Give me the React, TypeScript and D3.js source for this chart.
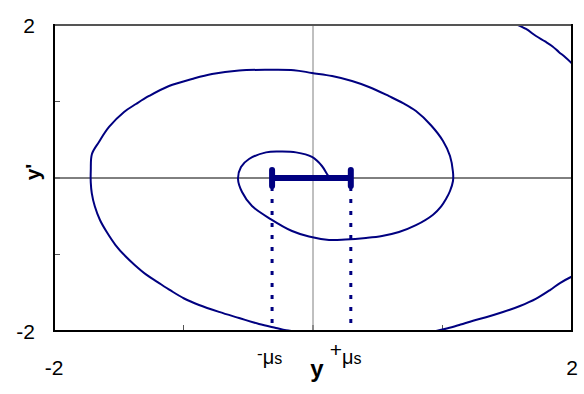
import React from 'react';
import * as d3 from 'd3';

// phase plane trajectory: [y, y']
const topRightArc: [number, number][] = [
  [1.568, 2.01], [1.645, 1.948], [1.722, 1.856], [1.792, 1.785], [1.85, 1.72],
  [1.9, 1.645], [1.946, 1.582], [2.01, 1.48],
];

const bottomRightArc: [number, number][] = [
  [2.01, -1.28], [1.992, -1.294], [1.907, -1.373], [1.83, -1.465], [1.72, -1.58],
  [1.598, -1.673], [1.467, -1.752], [1.336, -1.82], [1.236, -1.865], [1.14, -1.915],
  [1.04, -1.965], [0.95, -2.0], [0.86, -2.02],
];

const outerLoop: [number, number][] = [
  [-0.108, -2.01], [-0.208, -1.99], [-0.286, -1.96], [-0.417, -1.908], [-0.571, -1.83],
  [-0.726, -1.75], [-0.88, -1.66], [-0.995, -1.575], [-1.1, -1.47], [-1.2, -1.36],
  [-1.29, -1.26], [-1.375, -1.14], [-1.45, -1.02], [-1.525, -0.876], [-1.595, -0.7],
  [-1.645, -0.549], [-1.685, -0.37], [-1.708, -0.2], [-1.716, -0.06], [-1.716, 0.1],
  [-1.707, 0.314], [-1.653, 0.471], [-1.575, 0.667], [-1.459, 0.863], [-1.367, 0.967],
  [-1.266, 1.072], [-1.112, 1.203], [-0.934, 1.294], [-0.78, 1.359], [-0.571, 1.405],
  [-0.35, 1.415], [-0.147, 1.41], [-0.008, 1.373], [0.147, 1.333], [0.301, 1.268],
  [0.432, 1.19], [0.587, 1.07], [0.695, 0.98], [0.795, 0.876], [0.911, 0.69],
  [1.004, 0.484], [1.058, 0.288], [1.081, 0.078], [1.081, -0.039], [1.058, -0.17],
  [1.027, -0.275], [0.99, -0.37], [0.927, -0.48], [0.795, -0.617], [0.664, -0.706],
  [0.533, -0.758], [0.409, -0.784], [0.25, -0.805], [0.124, -0.81], [-0.031, -0.765],
  [-0.162, -0.693], [-0.324, -0.54], [-0.471, -0.366], [-0.548, -0.183], [-0.579, -0.013],
  [-0.556, 0.144], [-0.494, 0.248], [-0.363, 0.335], [-0.25, 0.345], [-0.131, 0.335],
  [-0.008, 0.275], [0.069, 0.157], [0.108, 0.052], [0.124, 0.013],
];

const muS = [-0.316, 0.292];
const yTicks = [-1, 0, 1];
const xTicks = [-1, 0, 1];

const W = 584, H = 394;
const M = { left: 54, right: 12, top: 25, bottom: 63 };
const FONT = '"Liberation Sans", Arial, sans-serif';
const NAVY = '#000080';

export default function App() {
  const x = d3.scaleLinear().domain([-2, 2]).range([M.left, W - M.right]);
  const y = d3.scaleLinear().domain([-2, 2]).range([H - M.bottom, M.top]);
  const line = d3.line<[number, number]>()
    .x(d => x(d[0]))
    .y(d => y(d[1]))
    .curve(d3.curveCatmullRom.alpha(0.5));

  const x0 = x.range()[0], x1 = x.range()[1];
  const y0 = y.range()[0], y1 = y.range()[1];

  return (
    <svg width={W} height={H} style={{ position: 'absolute', left: 0, top: 0 }}
      fontFamily={FONT}>
      <defs>
        <clipPath id="plot">
          <rect x={x0} y={y1} width={x1 - x0} height={y0 - y1} />
        </clipPath>
      </defs>
      <rect width={W} height={H} fill="#fff" />

      {/* zero lines */}
      <line x1={x0} x2={x1} y1={y(0)} y2={y(0)} stroke="#000" strokeWidth={1} />
      <line x1={x(0)} x2={x(0)} y1={y1} y2={y0} stroke="#808080" strokeWidth={1} />

      {yTicks.map(t => (
        <line key={'yt' + t} x1={x0} x2={x0 + 6} y1={y(t)} y2={y(t)} stroke="#555" />
      ))}
      {xTicks.map(t => (
        <line key={'xt' + t} x1={x(t)} x2={x(t)} y1={y0} y2={y0 - 6} stroke="#555" />
      ))}

      <g clipPath="url(#plot)" fill="none" stroke={NAVY} strokeWidth={2}>
        <path d={line(topRightArc) ?? ''} />
        <path d={line(bottomRightArc) ?? ''} />
        <path d={line(outerLoop) ?? ''} />
      </g>

      {/* sticking region */}
      {muS.map((m, i) => (
        <line key={'d' + i} x1={x(m)} x2={x(m)} y1={y(0) + 9} y2={y0}
          stroke={NAVY} strokeWidth={3} strokeDasharray="4 8" />
      ))}
      <line x1={x(muS[0])} x2={x(muS[1])} y1={y(0)} y2={y(0)} stroke={NAVY} strokeWidth={6} />
      {muS.map((m, i) => (
        <line key={'c' + i} x1={x(m)} x2={x(m)} y1={y(0) - 8} y2={y(0) + 8}
          stroke={NAVY} strokeWidth={6} strokeLinecap="round" />
      ))}

      {/* frame */}
      <line x1={x0} x2={x1} y1={y1} y2={y1} stroke="#555" strokeWidth={2} />
      <line x1={x1} x2={x1} y1={y1 - 1} y2={y0 + 1} stroke="#000" strokeWidth={2} />
      <line x1={x0} x2={x1 + 1} y1={y0} y2={y0} stroke="#000" strokeWidth={2} />
      <line x1={x0} x2={x0} y1={y1 - 1} y2={y0 + 1} stroke="#000" strokeWidth={2} />

      {/* axis labels */}
      <g fontSize={21} fill="#000">
        <text x={x0 - 19} y={y(2) + 8} textAnchor="end">2</text>
        <text x={x0 - 19} y={y(-2) + 8} textAnchor="end">-2</text>
        <text x={x(-2)} y={y0 + 44} textAnchor="middle">-2</text>
        <text x={x(2)} y={y0 + 44} textAnchor="middle">2</text>
      </g>
      <text transform={`translate(${x0 - 14},${y(0) - 6}) rotate(-90)`} textAnchor="middle"
        fontSize={21} fontWeight="bold">y'</text>
      <text x={x(0) + 4} y={y0 + 46} textAnchor="middle" fontSize={24} fontWeight="bold">y</text>

      <text x={x(muS[0]) - 15} y={y0 + 33} fontSize={20}>
        <tspan fontSize={17} dy={-5}>-</tspan>
        <tspan dy={5}>μ</tspan>
        <tspan fontSize={16}>s</tspan>
      </text>
      <text x={x(muS[1]) - 21} y={y0 + 33} fontSize={20}>
        <tspan fontSize={21} dy={-7}>+</tspan>
        <tspan dy={7}>μ</tspan>
        <tspan fontSize={16}>s</tspan>
      </text>
    </svg>
  );
}
